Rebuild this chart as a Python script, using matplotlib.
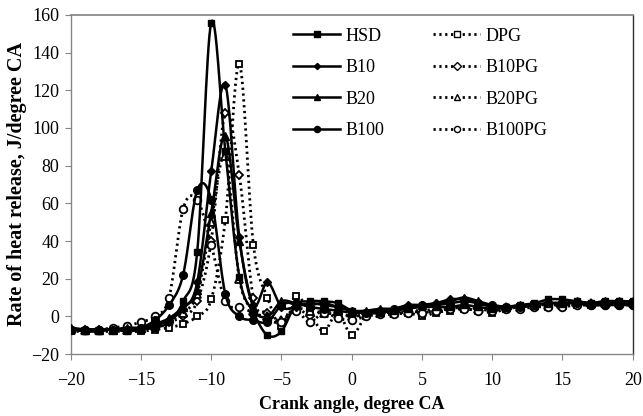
import numpy as np
import matplotlib
matplotlib.use("Agg")
import matplotlib.pyplot as plt
from matplotlib.lines import Line2D

plt.rcParams['font.family'] = ['Liberation Serif', 'DejaVu Serif']

# crank angle, degree CA
crank = list(range(-20, 21))

hsd = [-7, -8, -8, -7, -8, -7, -6, -3, 8, 34, 156, 88, 21, 2, -10, -8, 6, 8, 8, 7, 3,
       2, 2, 3, 4, 5, 5, 5, 6, 5, 4, 5, 6, 7, 9, 9, 8, 7, 8, 8, 8]
b10 = [-7, -7, -7, -7, -7, -6, -5, -2, 4, 18, 77, 123, 42, 6, 18, 5, 5, 7, 6, 5, 3,
       2, 3, 4, 6, 6, 7, 9, 9, 7, 5, 5, 5, 6, 7, 7, 7, 6, 7, 7, 7]
b20 = [-6, -7, -7, -7, -6, -6, -4, -1, 5, 14, 55, 96, 40, 5, 0, 8, 7, 6, 7, 5, 3,
       3, 4, 4, 5, 6, 7, 8, 10, 8, 6, 5, 6, 6, 7, 7, 8, 7, 8, 8, 8]
b100 = [-7, -7, -7, -7, -7, -6, -2, 6, 22, 67, 62, 12, 0, -2, -3, 6, 7, 5, 4, 3, 2,
        2, 3, 4, 5, 6, 6, 7, 8, 7, 6, 5, 5, 6, 7, 7, 7, 6, 6, 6, 6]
dpg = [-8, -8, -8, -8, -8, -8, -7, -6, -4, 0, 9, 51, 134, 38, 10, -5, 11, 2, -8, 2, -10,
       0, 2, 2, 2, 0, 2, 3, 4, 3, 2, 4, 5, 6, 5, 6, 6, 6, 7, 7, 7]
b10pg = [-7, -7, -7, -7, -7, -6, -5, -3, 0, 8, 40, 108, 75, 10, 2, -3, 5, 0, 3, 2, 0,
         1, 2, 3, 3, 2, 3, 4, 5, 4, 3, 4, 5, 6, 6, 6, 6, 6, 6, 7, 7]
b20pg = [-7, -7, -7, -7, -7, -6, -5, -2, 2, 12, 50, 85, 20, 3, 0, -2, 4, 3, 2, 1, 0,
         1, 2, 2, 3, 3, 4, 5, 5, 4, 4, 5, 5, 6, 6, 6, 7, 7, 7, 7, 7]
b100pg = [-7, -7, -7, -6, -5, -3, 0, 10, 57, 62, 38, 8, 5, 2, -2, -3, 3, -3, 2, -1, -2,
          0, 1, 1, 2, 2, 3, 4, 4, 3, 3, 4, 4, 5, 5, 5, 6, 6, 6, 6, 6]

series_names = ['HSD', 'B10', 'B20', 'B100', 'DPG', 'B10PG', 'B20PG', 'B100PG']


def smooth(x, y, n=16):
    # Catmull-Rom curve through the points, like Excel's smoothed line
    pts = np.column_stack([np.asarray(x, float), np.asarray(y, float)])
    p = np.vstack([pts[0], pts, pts[-1]])
    t = np.linspace(0, 1, n, endpoint=False)[:, None]
    out = []
    for i in range(1, len(p) - 2):
        p0, p1, p2, p3 = p[i - 1], p[i], p[i + 1], p[i + 2]
        seg = 0.5 * ((2 * p1) + (-p0 + p2) * t + (2 * p0 - 5 * p1 + 4 * p2 - p3) * t ** 2
                     + (-p0 + 3 * p1 - 3 * p2 + p3) * t ** 3)
        out.append(seg)
    out.append(pts[-1][None, :])
    out = np.vstack(out)
    return out[:, 0], out[:, 1]


fig = plt.figure(figsize=(6.43, 4.16), dpi=100)
ax = fig.add_axes([0.110, 0.149, 0.874, 0.815])

solid = [(hsd, 's', 5.0), (b10, 'D', 4.0), (b20, '^', 5.5), (b100, 'o', 5.5)]
dotted = [(dpg, 's', 5.0), (b10pg, 'D', 4.5), (b20pg, '^', 5.5), (b100pg, 'o', 5.5)]
dots = (0, (0.8, 1.3))

for vals, mk, ms in dotted:
    sx, sy = smooth(crank, vals)
    ax.plot(sx, sy, color='black', lw=2.0, ls=dots, zorder=2)
    ax.plot(crank, vals, ls='none', marker=mk, ms=ms, mfc='white', mec='black', mew=1.3, zorder=3)
for vals, mk, ms in solid:
    sx, sy = smooth(crank, vals)
    ax.plot(sx, sy, color='black', lw=1.8, zorder=4)
    ax.plot(crank, vals, ls='none', marker=mk, ms=ms, mfc='black', mec='black', zorder=5)

# legend proxies
handles = []
for i, (vals, mk, ms) in enumerate(solid):
    handles.append(Line2D([], [], color='black', lw=1.8, marker=mk, ms=ms * 0.8,
                          mfc='black', mec='black', label=series_names[i]))
for i, (vals, mk, ms) in enumerate(dotted):
    handles.append(Line2D([], [], color='black', lw=2.0, ls=dots, marker=mk,
                          ms=ms * 0.8, mfc='white', mec='black', mew=1.0,
                          label=series_names[4 + i]))

ax.legend(handles=handles, ncol=2, loc='upper left', bbox_to_anchor=(0.442, 0.955),
          bbox_transform=fig.transFigure, frameon=False, fontsize=13,
          handlelength=2.6, handletextpad=0.3, labelspacing=0.8, columnspacing=2.7,
          borderpad=0)

ax.set_xlim(-20, 20)
ax.set_ylim(-20, 160)
ax.set_xticks(range(-20, 21, 5))
ax.set_yticks(range(-20, 161, 20))
ax.tick_params(axis='both', labelsize=13, length=4, color='#868686', direction='out')
ax.tick_params(axis='x', pad=9)
ax.tick_params(axis='y', pad=4)

for side in ['left', 'bottom']:
    ax.spines[side].set_color('#868686')
    ax.spines[side].set_linewidth(1.0)
ax.spines['top'].set_color('#808080')
ax.spines['top'].set_linewidth(1.2)
ax.spines['right'].set_color('#303030')
ax.spines['right'].set_linewidth(1.0)

ax.set_xlabel('Crank angle, degree CA', fontsize=13, fontweight='bold', labelpad=5)
ax.set_ylabel('Rate of heat release, J/degree CA', fontsize=14.5, fontweight='bold', labelpad=3)

fig.savefig('out.png', dpi=100)
plt.close(fig)
